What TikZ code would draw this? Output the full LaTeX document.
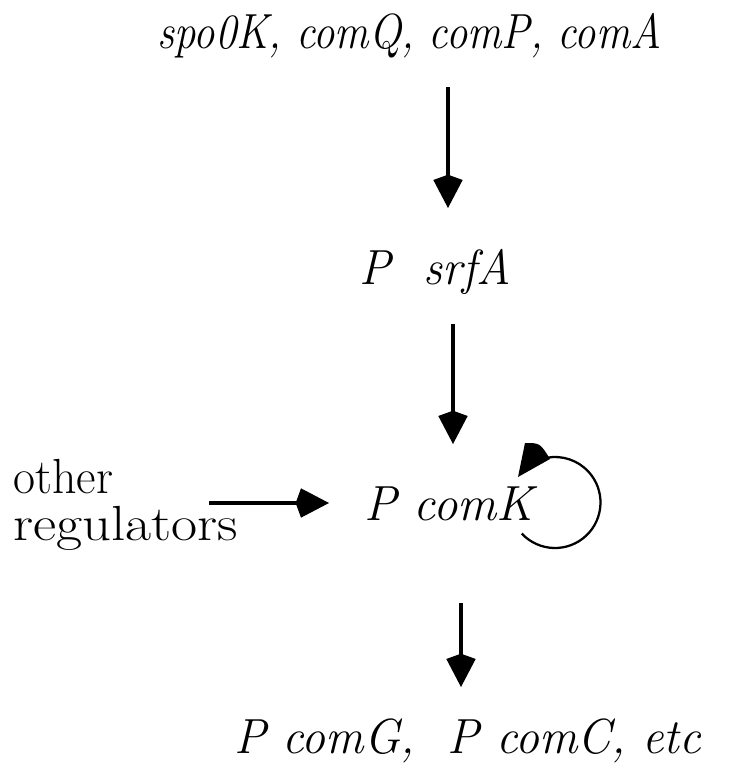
\documentclass[tikz,border=0pt]{standalone}
\usetikzlibrary{arrows.meta}
\begin{document}
\begin{tikzpicture}[x=0.75pt,y=-0.75pt,
  lbl/.style={anchor=base west,inner sep=0pt,font=\fontsize{37}{40}\selectfont\itshape},
  plain/.style={anchor=base west,inner sep=0pt,font=\fontsize{37}{40}\selectfont},
  arr/.style={line width=2.3pt,-{Kite[length=25pt,width=22pt,inset=4pt]}},
  loopline/.style={line width=1.7pt}]
\useasboundingbox (0,0) rectangle (743,765);
\node[lbl] (top) at (157,48) {\scalebox{0.867}[1]{spo0K, comQ, comP, comA}};
\node[lbl] (srfA) at (359,284) {\scalebox{0.96}[1]{P\ \ srfA}};
\node[lbl] (comK) at (364,520) {\scalebox{0.99}[1]{P comK}};
\node[plain] (other) at (13,493) {\scalebox{0.97}[1]{other}};
\node[plain] (regs) at (13,540) {\scalebox{1.15}[1]{regulators}};
\node[lbl] (bottom) at (234,753) {\scalebox{0.969}[1]{P comG,\ \ P comC, etc}};
\coordinate (a1s) at (448,87);  \coordinate (a1e) at (448,208);
\coordinate (a2s) at (453,324); \coordinate (a2e) at (453,444);
\coordinate (a3s) at (461,603); \coordinate (a3e) at (461,687);
\coordinate (a4s) at (209,503); \coordinate (a4e) at (329,503);
\coordinate (lc) at (555,502.5);
\coordinate (lt) at (518,477);
\coordinate (lb1) at (525,443);
\coordinate (lb2) at (550,459);
\draw[arr] (a1s) -- (a1e);
\draw[arr] (a2s) -- (a2e);
\draw[arr] (a3s) -- (a3e);
\draw[arr] (a4s) -- (a4e);
\draw[loopline] ([shift={(137:45.5)}]lc) arc[start angle=137,end angle=-100,radius=45.5];
\fill (lt) -- (lb1) .. controls (540,443) .. (lb2) -- cycle;
\end{tikzpicture}
\end{document}
